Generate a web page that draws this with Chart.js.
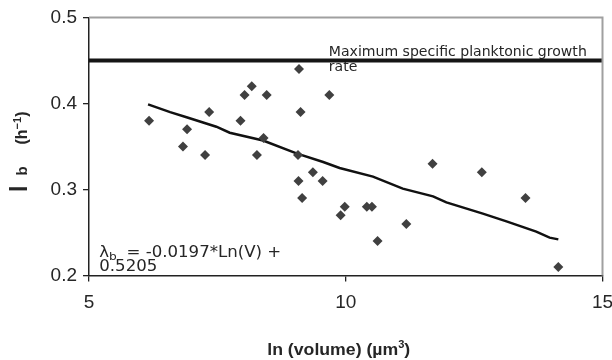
<!DOCTYPE html>
<html><head><meta charset="utf-8">
<script src="https://cdn.jsdelivr.net/npm/chart.js@4"></script>
<style>html,body{margin:0;padding:0;background:#fff}#wrap{width:612px;height:360px}</style>
</head><body><div id="wrap"><canvas id="c" width="612" height="360"></canvas></div>
<script>
// ---- data ----
const lnVolume = [6.17,6.83,6.91,7.26,7.34,7.95,8.03,8.17,8.27,8.40,8.46,9.07,9.08,9.09,9.12,9.15,9.36,9.55,9.68,9.90,9.98,10.41,10.51,10.62,11.18,11.69,12.65,13.50,14.14];
const lambdaB  = [0.38,0.35,0.37,0.34,0.39,0.38,0.41,0.42,0.34,0.36,0.41,0.34,0.31,0.44,0.39,0.29,0.32,0.31,0.41,0.27,0.28,0.28,0.28,0.24,0.26,0.33,0.32,0.29,0.21];
const trendX = [6.15,6.58,6.90,7.48,7.74,8.39,9.04,9.56,9.88,10.53,11.11,11.70,11.96,12.67,13.13,13.71,13.97,14.14];
const trendY = [0.399,0.390,0.384,0.373,0.366,0.357,0.342,0.332,0.325,0.315,0.301,0.292,0.285,0.272,0.263,0.251,0.244,0.242];
const maxRateX = [5, 15];
const maxRateY = [0.45, 0.45];
const xTickValues = [5, 10, 15];
const xTickLabels = ['5', '10', '15'];
const yTickValues = [0.2, 0.3, 0.4, 0.5];
const yTickLabels = ['0.2', '0.3', '0.4', '0.5'];
const maxRateText = ['Maximum specific planktonic growth', 'rate'];
const equationText = ['= -0.0197*Ln(V) +', '0.5205'];

const zip = (xs, ys) => xs.map((v, i) => ({x: v, y: ys[i]}));
const TXT = '#262626';

function drawRuns(ctx, runs, x, y) {
  for (const r of runs) { ctx.font = r.font; ctx.fillText(r.t, x, y + (r.dy || 0)); x += ctx.measureText(r.t).width + (r.gap || 0); }
  return x;
}
function runsWidth(ctx, runs) {
  let w = 0; for (const r of runs) { ctx.font = r.font; w += ctx.measureText(r.t).width + (r.gap || 0); } return w;
}

const deco = {
  id: 'deco',
  beforeDatasetsDraw(chart) {
    const {ctx, scales: {x, y}} = chart;
    ctx.save();
    ctx.fillStyle = TXT; ctx.textBaseline = 'alphabetic'; ctx.textAlign = 'left';
    const fm = '14px "DejaVu Sans"';
    ctx.font = fm;
    const sx = 258 / ctx.measureText(maxRateText[0]).width;
    // max rate label
    const lx = x.getPixelForValue(9.67), ly = y.getPixelForValue(0.45);
    ctx.save(); ctx.translate(lx, 0); ctx.scale(sx, 1);
    ctx.fillText(maxRateText[0], 0, ly - 5);
    ctx.fillText(maxRateText[1], 0, ly + 10);
    ctx.restore();
    // equation
    const f = '15px "DejaVu Sans"';
    const er = [{t: 'λ', font: f}, {t: 'b', font: '11px "DejaVu Sans"', dy: 3, gap: 4}, {t: ' ' + equationText[0], font: f}];
    const se = 182 / runsWidth(ctx, er);
    const ex = x.getPixelForValue(5.2), ey = y.getPixelForValue(0.2);
    ctx.save(); ctx.translate(ex, 0); ctx.scale(se, 1);
    drawRuns(ctx, er, 0, ey - 19);
    ctx.font = f; ctx.fillText(equationText[1], 0, ey - 5);
    ctx.restore();
    ctx.restore();
  },
  afterDraw(chart) {
    const {ctx, chartArea: a} = chart;
    ctx.save();
    // grey top/right frame
    ctx.strokeStyle = '#a0a0a0'; ctx.lineWidth = 2;
    ctx.beginPath(); ctx.moveTo(a.left, a.top); ctx.lineTo(a.right, a.top); ctx.lineTo(a.right, a.bottom); ctx.stroke();
    ctx.fillStyle = TXT; ctx.textBaseline = 'alphabetic'; ctx.textAlign = 'left';
    // x title
    const bx = 'bold 16px "Liberation Sans"', bs = 'bold 10px "Liberation Sans"';
    const xr = [{t: 'ln (volume) (µm', font: bx}, {t: '3', font: bs, dy: -7}, {t: ')', font: bx}];
    const xw = runsWidth(ctx, xr);
    const xs = 143 / xw;
    const cx = (a.left + a.right) / 2 - 7;
    ctx.save(); ctx.translate(cx - 143 / 2, 0); ctx.scale(xs, 1);
    drawRuns(ctx, xr, 0, 355);
    ctx.restore();
    // y title (rotated): "l", "b", "(h-1)"
    const yb = a.bottom - 85;
    ctx.save(); ctx.translate(27, yb); ctx.rotate(-Math.PI / 2);
    ctx.font = 'bold 23px "Liberation Sans"'; ctx.fillText('l', -1.5, 0);
    ctx.font = 'bold 15px "Liberation Sans"'; ctx.fillText('b', 15, 0);
    drawRuns(ctx, [{t: '(h', font: 'bold 16px "Liberation Sans"'}, {t: '−1', font: 'bold 11px "Liberation Sans"', dy: -6},
                   {t: ')', font: 'bold 16px "Liberation Sans"'}], 46, 0);
    ctx.restore();
    ctx.restore();
  }
};

new Chart(document.getElementById('c').getContext('2d'), {
  type: 'scatter',
  data: {
    datasets: [
      {label: 'obs', data: zip(lnVolume, lambdaB), pointStyle: 'rectRot', pointRadius: 5, pointHoverRadius: 5,
       backgroundColor: '#404040', borderColor: '#404040', borderWidth: 0, order: 1},
      {label: 'trend', data: zip(trendX, trendY), showLine: true, borderColor: '#111', borderWidth: 2.5,
       pointRadius: 0, tension: 0, order: 2},
      {label: 'Maximum specific planktonic growth rate', data: zip(maxRateX, maxRateY), showLine: true,
       borderColor: '#151515', borderWidth: 4, pointRadius: 0, order: 3}
    ]
  },
  options: {
    responsive: false, animation: false, devicePixelRatio: 1,
    layout: {padding: {top: 17.5, right: 9.5, left: 0, bottom: 0}},
    plugins: {legend: {display: false}, tooltip: {enabled: false}},
    scales: {
      x: {
        type: 'linear', min: 5, max: 15,
        afterBuildTicks: s => { s.ticks = xTickValues.map(v => ({value: v})); },
        ticks: {color: TXT, font: {family: '"Liberation Sans"', size: 19}, padding: 10, maxRotation: 0,
                callback: v => { const i = xTickValues.indexOf(v); return i >= 0 ? xTickLabels[i] : ''; }},
        grid: {drawOnChartArea: false, tickLength: 6, color: '#222', lineWidth: 1.3},
        border: {color: '#222', width: 1.5},
        afterFit: s => { s.height = 84.5; s.paddingLeft = 0; s.paddingRight = 0; }
      },
      y: {
        type: 'linear', min: 0.2, max: 0.5,
        afterBuildTicks: s => { s.ticks = yTickValues.map(v => ({value: v})); },
        ticks: {color: TXT, font: {family: '"Liberation Sans"', size: 19}, padding: 6,
                callback: v => { const i = yTickValues.findIndex(t => Math.abs(t - v) < 1e-9); return i >= 0 ? yTickLabels[i] : ''; }},
        grid: {drawOnChartArea: false, tickLength: 6, color: '#222', lineWidth: 1.3},
        border: {color: '#222', width: 1.5},
        afterFit: s => { s.width = 89; s.paddingTop = 0; s.paddingBottom = 0; }
      }
    }
  },
  plugins: [deco]
});
</script></body></html>
